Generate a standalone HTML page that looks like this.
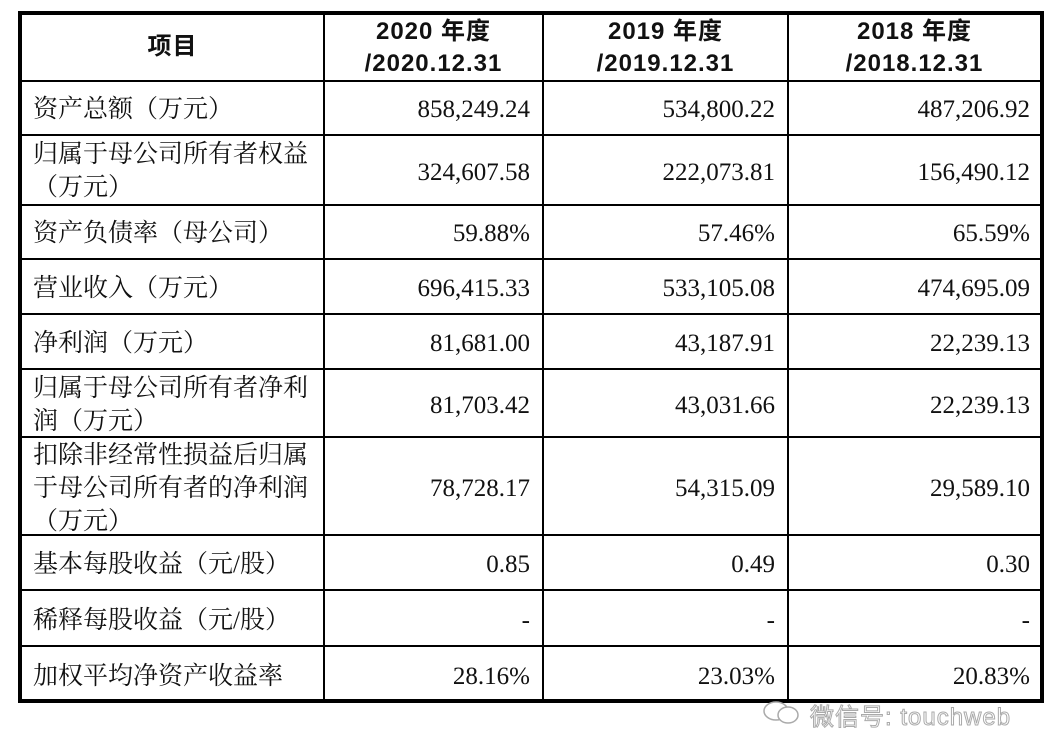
<!DOCTYPE html>
<html><head><meta charset="utf-8"><style>
body{margin:0;width:1055px;height:756px;background:#fff;position:relative;overflow:hidden;font-family:"Liberation Serif","Noto Serif CJK SC",serif;color:#111}
.h{position:absolute;background:#000;height:2px;left:18px;width:1026px}
.v{position:absolute;background:#000;width:2px;top:11px;height:692px}
.box{position:absolute;left:18px;top:11px;width:1018px;height:684px;border:4px solid #000}
.t{position:absolute;font-size:25px;line-height:33px;white-space:nowrap}
.l{left:33px}
.n{text-align:right;font-size:25px}
.c1{right:525px}.c2{right:280px}.c3{right:25px}
.hd{position:absolute;font-family:"Liberation Sans","Noto Sans CJK SC",sans-serif;font-weight:bold;font-size:24px;line-height:32px;text-align:center;letter-spacing:1px}
.wm{position:absolute;left:810px;top:697px;font-family:"Liberation Sans","Noto Sans CJK SC",sans-serif;font-size:24px;color:#fff;-webkit-text-stroke:1px #aaa;letter-spacing:1px}
</style></head><body>
<div class="box"></div>
<div class="v" style="left:323px"></div>
<div class="v" style="left:542px"></div>
<div class="v" style="left:787px"></div>
<div class="h" style="top:80px"></div>
<div class="h" style="top:134px"></div>
<div class="h" style="top:204px"></div>
<div class="h" style="top:258px"></div>
<div class="h" style="top:313px"></div>
<div class="h" style="top:368px"></div>
<div class="h" style="top:436px"></div>
<div class="h" style="top:534px"></div>
<div class="h" style="top:589px"></div>
<div class="h" style="top:645px"></div>

<div class="hd" style="left:22px;width:301px;top:31px">项目</div>
<div class="hd" style="left:325px;width:217px;top:16px">2020 年度<br>/2020.12.31</div>
<div class="hd" style="left:544px;width:243px;top:16px">2019 年度<br>/2019.12.31</div>
<div class="hd" style="left:789px;width:251px;top:16px">2018 年度<br>/2018.12.31</div>

<div class="t l" style="top:93px">资产总额（万元）</div>
<div class="t n c1" style="top:93px">858,249.24</div><div class="t n c2" style="top:93px">534,800.22</div><div class="t n c3" style="top:93px">487,206.92</div>

<div class="t l" style="top:138px">归属于母公司所有者权益<br>（万元）</div>
<div class="t n c1" style="top:156px">324,607.58</div><div class="t n c2" style="top:156px">222,073.81</div><div class="t n c3" style="top:156px">156,490.12</div>

<div class="t l" style="top:217px">资产负债率（母公司）</div>
<div class="t n c1" style="top:217px">59.88%</div><div class="t n c2" style="top:217px">57.46%</div><div class="t n c3" style="top:217px">65.59%</div>

<div class="t l" style="top:272px">营业收入（万元）</div>
<div class="t n c1" style="top:272px">696,415.33</div><div class="t n c2" style="top:272px">533,105.08</div><div class="t n c3" style="top:272px">474,695.09</div>

<div class="t l" style="top:327px">净利润（万元）</div>
<div class="t n c1" style="top:327px">81,681.00</div><div class="t n c2" style="top:327px">43,187.91</div><div class="t n c3" style="top:327px">22,239.13</div>

<div class="t l" style="top:372px">归属于母公司所有者净利<br>润（万元）</div>
<div class="t n c1" style="top:389px">81,703.42</div><div class="t n c2" style="top:389px">43,031.66</div><div class="t n c3" style="top:389px">22,239.13</div>

<div class="t l" style="top:439px">扣除非经常性损益后归属<br>于母公司所有者的净利润<br>（万元）</div>
<div class="t n c1" style="top:472px">78,728.17</div><div class="t n c2" style="top:472px">54,315.09</div><div class="t n c3" style="top:472px">29,589.10</div>

<div class="t l" style="top:548px">基本每股收益（元/股）</div>
<div class="t n c1" style="top:548px">0.85</div><div class="t n c2" style="top:548px">0.49</div><div class="t n c3" style="top:548px">0.30</div>

<div class="t l" style="top:604px">稀释每股收益（元/股）</div>
<div class="t n c1" style="top:604px">-</div><div class="t n c2" style="top:604px">-</div><div class="t n c3" style="top:604px">-</div>

<div class="t l" style="top:660px">加权平均净资产收益率</div>
<div class="t n c1" style="top:660px">28.16%</div><div class="t n c2" style="top:660px">23.03%</div><div class="t n c3" style="top:660px">20.83%</div>

<svg style="position:absolute;left:760px;top:698px" width="42" height="30"><ellipse cx="16" cy="13" rx="12" ry="9" fill="#fff" stroke="#aaa" stroke-width="1.5"/><ellipse cx="28" cy="17" rx="10" ry="8" fill="#fff" stroke="#aaa" stroke-width="1.5"/></svg>
<div class="wm">微信号: touchweb</div>
</body></html>
